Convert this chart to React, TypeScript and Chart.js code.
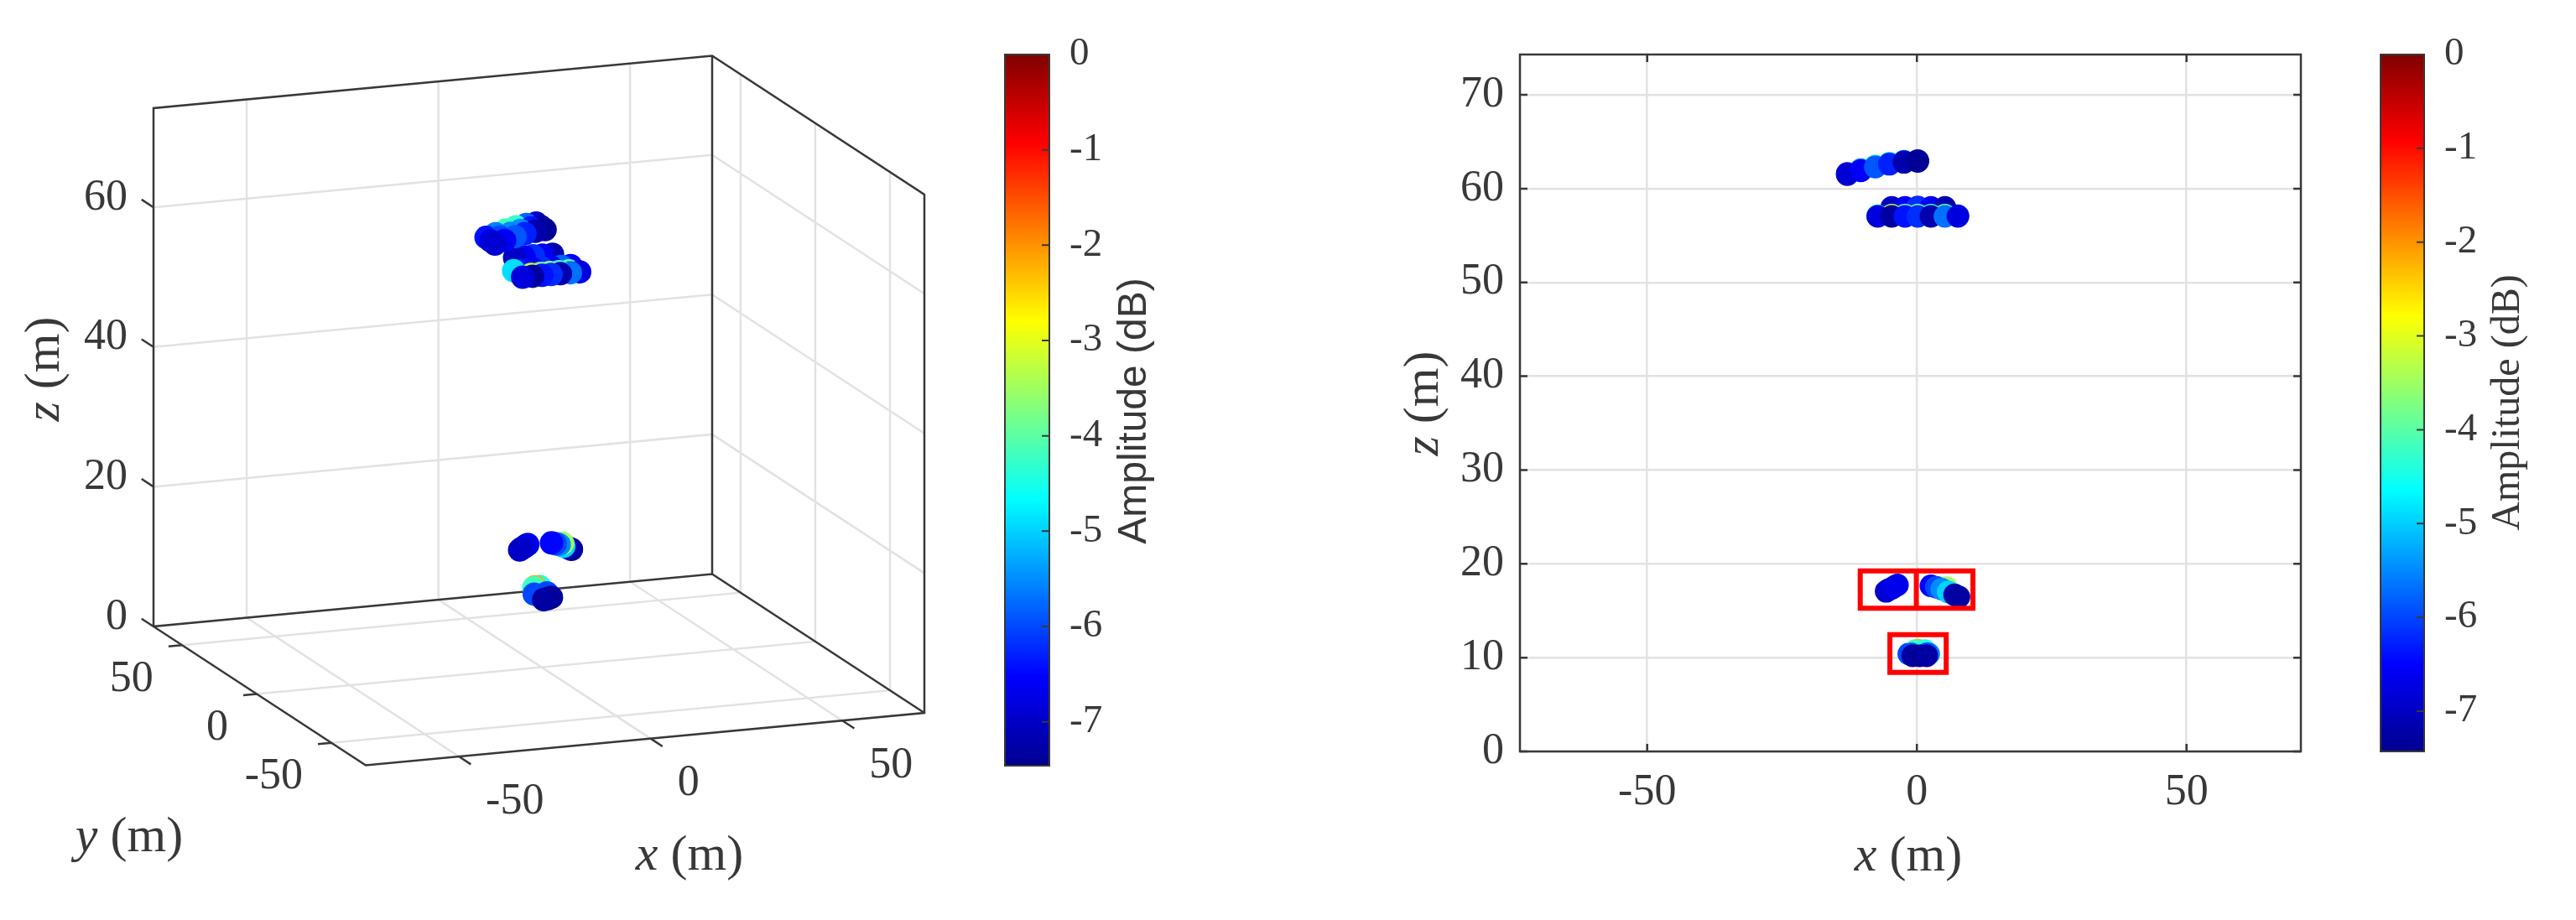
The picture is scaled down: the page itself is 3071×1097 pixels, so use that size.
import React, { useEffect, useRef } from 'react'
import Chart from 'chart.js/auto'

// scatterer groups, far rows first, every value
const topBackX = [-12.9, -10.4, -7.7, -5.1, -2.4, 0.15]
const topBackY = [4, 4, 4, 4, 4, 4]
const topBackZ = [61.62, 62.02, 62.42, 62.72, 62.92, 63.0]
const topBackDb = [-6.4, -5.6, -4.2, -4.3, -5.8, -7.0]

const topMidX = [-12.9, -10.4, -7.7, -5.1, -2.4, 0.15]
const topMidY = [1, 1, 1, 1, 1, 1]
const topMidZ = [61.55, 61.95, 62.35, 62.65, 62.85, 62.95]
const topMidDb = [-6.8, -6.0, -5.5, -5.5, -6.4, -7.2]

const topFrontX = [-12.9, -10.4, -7.7, -5.1, -2.4, 0.15]
const topFrontY = [-2, -2, -2, -2, -2, -2]
const topFrontZ = [61.5, 61.9, 62.3, 62.6, 62.8, 62.9]
const topFrontDb = [-6.9, -6.6, -5.9, -6.3, -7.2, -7.4]

const lowBackX = [-4.67, -2.2, 0.16, 2.6, 5.2]
const lowBackY = [6, 6, 6, 6, 6]
const lowBackZ = [58.0, 58.0, 58.05, 58.0, 58.0]
const lowBackDb = [-7.0, -6.6, -6.2, -6.6, -7.2]

const lowMidX = [-7.26, -4.67, -2.2, 0.16, 2.6, 5.2, 7.6]
const lowMidY = [0, 0, 0, 0, 0, 0, 0]
const lowMidZ = [57.12, 57.1, 57.1, 57.1, 57.1, 57.1, 57.1]
const lowMidDb = [-4.9, -6.4, -6.6, -6.2, -6.6, -5.8, -6.6]

const lowRimX = [-4.67, -2.2, 0.16, 2.6, 5.2]
const lowRimY = [-5, -5, -5, -5, -5]
const lowRimZ = [57.17, 57.17, 57.17, 57.17, 57.17]
const lowRimDb = [-3.2, -3.8, -3.6, -4.3, -4.0]

const lowFrontX = [-7.26, -4.67, -2.2, 0.16, 2.6, 5.2, 7.6]
const lowFrontY = [-6, -6, -6, -6, -6, -6, -6]
const lowFrontZ = [57.04, 57.04, 57.04, 57.04, 57.04, 57.04, 57.04]
const lowFrontDb = [-6.8, -7.3, -6.4, -6.2, -7.2, -5.7, -6.8]

const leftBlobX = [-5.7, -5.2, -4.6, -4.1, -3.6]
const leftBlobY = [0, 0, 0, 0, 0]
const leftBlobZ = [17.07, 17.25, 17.4, 17.6, 17.75]
const leftBlobDb = [-7.0, -6.9, -6.8, -6.7, -6.7]

const rightBlobX = [5.5, 2.6, 3.6, 4.6, 5.8, 7.0, 7.8]
const rightBlobY = [0, 0, 0, 0, 0, 0, 0]
const rightBlobZ = [17.45, 17.66, 17.5, 17.3, 17.0, 16.7, 16.47]
const rightBlobDb = [-3.5, -6.5, -6.0, -5.5, -5.0, -7.2, -7.3]

const lowerBlobX = [0.2, -1.5, -0.3, 1.5, 2.2, -1.0, 1.8, -0.78, 0.5, 1.8]
const lowerBlobY = [5, 1, 4.4, 5, 7, -2, 1, -3.5, -3, -2]
const lowerBlobZ = [10.8, 10.4, 10.75, 10.75, 10.4, 10.4, 10.4, 10.2, 10.2, 10.2]
const lowerBlobDb = [-2.2, -6.0, -4.2, -4.4, -5.6, -6.0, -6.0, -7.3, -7.4, -7.3]

const groups = [
  [topBackX, topBackY, topBackZ, topBackDb],
  [topMidX, topMidY, topMidZ, topMidDb],
  [topFrontX, topFrontY, topFrontZ, topFrontDb],
  [lowBackX, lowBackY, lowBackZ, lowBackDb],
  [lowMidX, lowMidY, lowMidZ, lowMidDb],
  [lowRimX, lowRimY, lowRimZ, lowRimDb],
  [lowFrontX, lowFrontY, lowFrontZ, lowFrontDb],
  [leftBlobX, leftBlobY, leftBlobZ, leftBlobDb],
  [rightBlobX, rightBlobY, rightBlobZ, rightBlobDb],
  [lowerBlobX, lowerBlobY, lowerBlobZ, lowerBlobDb],
]

// red boxes on the x-z view
const redBoxLeft = [-10.5, -0.1, -5.0]
const redBoxRight = [-0.1, 10.4, 5.44]
const redBoxTop = [19.24, 19.24, 12.45]
const redBoxBottom = [15.27, 15.27, 8.43]

const xTicks3d = [-50, 0, 50]
const yTicks3d = [-50, 0, 50]
const zTicks3d = [0, 20, 40, 60]

const X_MIN = -74.3
const X_MAX = 71.4
const Y_MIN = -73
const Y_MAX = 69
const Z_MAX = 74.2

const X2_MIN = -73.6
const X2_MAX = 71.2
const Z2_MAX = 74.3
const DB_MIN_LEFT = -7.46
const DB_MIN_RIGHT = -7.43

const jetStops: [number, number[]][] = [
  [0, [0, 0, 143]],
  [0.125, [0, 0, 255]],
  [0.375, [0, 255, 255]],
  [0.625, [255, 255, 0]],
  [0.875, [255, 0, 0]],
  [1, [128, 0, 0]],
]

const SERIF = '"Liberation Serif"'
const SANS = '"Liberation Sans"'
const INK = '#383838'
const GRID = '#e2e2e2'

const jet = (db: number) => {
  const t = Math.min(1, Math.max(0, (db - DB_MIN_LEFT) / -DB_MIN_LEFT))
  for (let i = 1; i < jetStops.length; i++) {
    const [p1, c1] = jetStops[i]
    const [p0, c0] = jetStops[i - 1]
    if (t <= p1) {
      const f = (t - p0) / (p1 - p0)
      const c = c0.map((v, k) => Math.round(v + (c1[k] - v) * f))
      return `rgb(${c[0]},${c[1]},${c[2]})`
    }
  }
  return 'rgb(128,0,0)'
}

type Target = { x: number; y: number; z: number; db: number }

const targets: Target[] = groups.flatMap(([xs, ys, zs, dbs]) =>
  xs.map((x, i) => ({ x, y: ys[i], z: zs[i], db: dbs[i] })),
)

// orthographic view of the left panel, canvas pixels per data unit
const project = (x: number, y: number, z: number) => {
  const a = (x - X_MIN) / (X_MAX - X_MIN)
  const b = (Y_MAX - y) / (Y_MAX - Y_MIN)
  return {
    x: 183 + a * 666 + b * 253,
    y: 747 - a * 62.5 + b * 165.5 - z * 8.33,
  }
}

const GAP = { x: NaN, y: NaN }

const polyline = (pts: number[][]) => [...pts.map(p => project(p[0], p[1], p[2])), GAP]

const gridLines = [
  ...xTicks3d.flatMap(x => [
    ...polyline([[x, Y_MAX, Z_MAX], [x, Y_MAX, 0], [x, Y_MIN, 0]]),
  ]),
  ...yTicks3d.flatMap(y => [
    ...polyline([[X_MAX, y, Z_MAX], [X_MAX, y, 0], [X_MIN, y, 0]]),
  ]),
  ...zTicks3d.slice(1).flatMap(z => [
    ...polyline([[X_MIN, Y_MAX, z], [X_MAX, Y_MAX, z], [X_MAX, Y_MIN, z]]),
  ]),
]

const boxLines = [
  ...polyline([[X_MIN, Y_MAX, 0], [X_MIN, Y_MAX, Z_MAX], [X_MAX, Y_MAX, Z_MAX], [X_MAX, Y_MIN, Z_MAX], [X_MAX, Y_MIN, 0], [X_MIN, Y_MIN, 0], [X_MIN, Y_MAX, 0], [X_MAX, Y_MAX, 0], [X_MAX, Y_MIN, 0]]),
  ...polyline([[X_MAX, Y_MAX, 0], [X_MAX, Y_MAX, Z_MAX]]),
  ...xTicks3d.flatMap(x => polyline([[x, Y_MIN, 0], [x, Y_MIN - 8, 0]])),
  ...yTicks3d.flatMap(y => polyline([[X_MIN, y, 0], [X_MIN - 3.5, y, 0]])),
  ...zTicks3d.flatMap(z => polyline([[X_MIN, Y_MAX, z], [X_MIN, Y_MAX + 8, z]])),
]

// far points first for the left view
const depthSorted = [...targets].sort((p, q) => 0.36 * q.x + 0.93 * q.y - (0.36 * p.x + 0.93 * p.y))

type Part = { text: string; font: string }

const drawLabel = (ctx: CanvasRenderingContext2D, parts: Part[], cx: number, cy: number, rotate: boolean) => {
  ctx.save()
  ctx.translate(cx, cy)
  if (rotate) ctx.rotate(-Math.PI / 2)
  ctx.fillStyle = INK
  ctx.textBaseline = 'middle'
  ctx.textAlign = 'left'
  let w = 0
  parts.forEach(p => {
    ctx.font = p.font
    w += ctx.measureText(p.text).width
  })
  let at = -w / 2
  parts.forEach(p => {
    ctx.font = p.font
    ctx.fillText(p.text, at, 0)
    at += ctx.measureText(p.text).width
  })
  ctx.restore()
}

const axisParts = (name: string, size = 60): Part[] => [
  { text: name, font: `italic ${size}px ${SERIF}` },
  { text: ' (m)', font: `${size}px ${SERIF}` },
]

const cubeLabels = {
  id: 'cubeLabels',
  afterDraw(chart: Chart) {
    const { ctx } = chart
    const text = (s: string, x: number, y: number, align: CanvasTextAlign) => {
      ctx.font = `52px ${SERIF}`
      ctx.fillStyle = INK
      ctx.textAlign = align
      ctx.textBaseline = 'middle'
      ctx.fillText(s, x, y)
    }
    xTicks3d.forEach(v => {
      const p = project(v, Y_MIN, 0)
      text(String(v), p.x + 32, p.y + 54, 'left')
    })
    yTicks3d.forEach(v => {
      const p = project(X_MIN, v, 0)
      text(String(v), p.x - 34, p.y + 41, 'right')
    })
    zTicks3d.forEach(v => {
      const p = project(X_MIN, Y_MAX, v)
      text(String(v), p.x - 31, p.y - 11, 'right')
    })
    drawLabel(ctx, axisParts('z'), 54, 440, true)
    drawLabel(ctx, axisParts('x'), 822, 1021, false)
    drawLabel(ctx, axisParts('y'), 154, 999, false)
  },
}

const plotFrame = {
  id: 'plotFrame',
  afterDatasetsDraw(chart: Chart) {
    const { ctx, chartArea: a, scales } = chart
    ctx.save()
    ctx.strokeStyle = INK
    ctx.lineWidth = 2.5
    ctx.strokeRect(a.left, a.top, a.width, a.height)
    ctx.beginPath()
    scales.x.ticks.forEach(t => {
      const px = scales.x.getPixelForValue(t.value)
      ctx.moveTo(px, a.bottom)
      ctx.lineTo(px, a.bottom - 9)
      ctx.moveTo(px, a.top)
      ctx.lineTo(px, a.top + 9)
    })
    scales.y.ticks.forEach(t => {
      const py = scales.y.getPixelForValue(t.value)
      ctx.moveTo(a.left, py)
      ctx.lineTo(a.left + 9, py)
      ctx.moveTo(a.right, py)
      ctx.lineTo(a.right - 9, py)
    })
    ctx.stroke()
    ctx.restore()
    drawLabel(ctx, axisParts('x'), 715, 1022, false)
    drawLabel(ctx, axisParts('z'), 138, 481, true)
  },
}

const barFrame = (cx: number, cy: number, font: string) => ({
  id: 'barFrame',
  afterDatasetsDraw(chart: Chart) {
    const { ctx, chartArea: a, scales } = chart
    ctx.save()
    ctx.strokeStyle = INK
    ctx.lineWidth = 2
    ctx.strokeRect(a.left, a.top, a.width, a.height)
    ctx.beginPath()
    scales.y.ticks.forEach(t => {
      const py = scales.y.getPixelForValue(t.value)
      ctx.moveTo(a.right, py)
      ctx.lineTo(a.right - 9, py)
    })
    ctx.stroke()
    ctx.restore()
    drawLabel(ctx, [{ text: 'Amplitude (dB)', font }], cx, cy, true)
  },
})

const cubeConfig = (): any => ({
  type: 'scatter',
  data: {
    datasets: [
      {
        data: depthSorted.map(p => project(p.x, p.y, p.z)),
        pointBackgroundColor: depthSorted.map(p => jet(p.db)),
        pointBorderWidth: 0,
        pointRadius: 14,
        order: 0,
      },
      { data: boxLines, showLine: true, borderColor: INK, borderWidth: 2.5, pointRadius: 0, order: 1 },
      { data: gridLines, showLine: true, borderColor: GRID, borderWidth: 2.5, pointRadius: 0, order: 2 },
    ],
  },
  options: {
    animation: false,
    responsive: false,
    devicePixelRatio: 1,
    clip: false,
    layout: { padding: 0, autoPadding: false },
    plugins: { legend: { display: false }, tooltip: { enabled: false } },
    scales: {
      x: { display: false, min: 0, max: 1180 },
      y: { display: false, min: 0, max: 1097, reverse: true },
    },
  },
  plugins: [cubeLabels],
})

const flatConfig = (): any => ({
  type: 'scatter',
  data: {
    datasets: [
      {
        data: redBoxLeft.flatMap((l, i) => [
          { x: l, y: redBoxTop[i] },
          { x: redBoxRight[i], y: redBoxTop[i] },
          { x: redBoxRight[i], y: redBoxBottom[i] },
          { x: l, y: redBoxBottom[i] },
          { x: l, y: redBoxTop[i] },
          GAP,
        ]),
        showLine: true,
        borderColor: '#ff0000',
        borderWidth: 6,
        borderCapStyle: 'square',
        borderJoinStyle: 'miter',
        pointRadius: 0,
        order: 0,
      },
      {
        data: targets.map(p => ({ x: p.x, y: p.z })),
        pointBackgroundColor: targets.map(p => jet(p.db)),
        pointBorderWidth: 0,
        pointRadius: 13.5,
        order: 1,
      },
    ],
  },
  options: {
    animation: false,
    responsive: false,
    devicePixelRatio: 1,
    layout: { padding: { top: 65, right: 57, left: 0, bottom: 0 }, autoPadding: false },
    plugins: { legend: { display: false }, tooltip: { enabled: false } },
    scales: {
      x: {
        type: 'linear',
        min: X2_MIN,
        max: X2_MAX,
        afterFit: (s: any) => { s.height = 201 },
        grid: { color: GRID, lineWidth: 2.5, drawTicks: false },
        border: { display: false },
        ticks: {
          stepSize: 50,
          includeBounds: false,
          padding: 18,
          maxRotation: 0,
          autoSkip: false,
          color: INK,
          font: { family: SERIF, size: 52 },
          callback: (v: number) => String(v),
        },
      },
      y: {
        type: 'linear',
        min: 0,
        max: Z2_MAX,
        afterFit: (s: any) => { s.width = 252 },
        grid: { color: GRID, lineWidth: 2.5, drawTicks: false },
        border: { display: false },
        ticks: {
          stepSize: 10,
          includeBounds: false,
          padding: 19,
          autoSkip: false,
          color: INK,
          font: { family: SERIF, size: 52 },
          callback: (v: number) => String(v),
        },
      },
    },
  },
  plugins: [plotFrame],
})

const barConfig = (dbMin: number, bottom: number, plugin: any): any => ({
  type: 'bar',
  data: {
    labels: ['dB'],
    datasets: [
      {
        data: [[dbMin, 0]],
        barPercentage: 1,
        categoryPercentage: 1,
        backgroundColor: (c: any) => {
          const area = c.chart.chartArea
          if (!area) return '#000080'
          const grad = c.chart.ctx.createLinearGradient(0, area.bottom, 0, area.top)
          jetStops.forEach(([p, rgb]) => grad.addColorStop(p, `rgb(${rgb.join(',')})`))
          return grad
        },
      },
    ],
  },
  options: {
    animation: false,
    responsive: false,
    devicePixelRatio: 1,
    layout: { padding: { top: 65, left: 28, right: 0, bottom } },
    plugins: { legend: { display: false }, tooltip: { enabled: false } },
    scales: {
      x: { display: false },
      y: {
        position: 'right',
        min: dbMin,
        max: 0,
        afterFit: (s: any) => { s.width = 200 },
        grid: { display: false },
        border: { display: false },
        ticks: {
          stepSize: 1,
          includeBounds: false,
          padding: 16,
          autoSkip: false,
          color: INK,
          font: { family: SERIF, size: 47 },
          callback: (v: number) => String(v),
        },
      },
    },
  },
  plugins: [plugin],
})

type CanvasProps = { left: number; width: number; makeConfig: () => any }

const ChartCanvas: React.FC<CanvasProps> = ({ left, width, makeConfig }) => {
  const ref = useRef<HTMLCanvasElement>(null)

  useEffect(() => {
    if (!ref.current) return
    const chart = new Chart(ref.current, makeConfig())
    return () => chart.destroy()
  }, [])

  return (
    <canvas
      ref={ref}
      width={width}
      height={1097}
      style={{ position: 'absolute', left, top: 0, width, height: 1097 }}
    />
  )
}

export default function App() {
  return (
    <div style={{ position: 'absolute', left: 0, top: 0, width: 3071, height: 1097, background: '#fff', overflow: 'hidden' }}>
      <ChartCanvas left={0} width={1180} makeConfig={cubeConfig} />
      <ChartCanvas
        left={1170}
        width={281}
        makeConfig={() => barConfig(DB_MIN_LEFT, 184, barFrame(183, 490, `48px ${SANS}`))}
      />
      <ChartCanvas left={1560} width={1240} makeConfig={flatConfig} />
      <ChartCanvas
        left={2810}
        width={280}
        makeConfig={() => barConfig(DB_MIN_RIGHT, 201, barFrame(180, 480, `48px ${SERIF}`))}
      />
    </div>
  )
}
